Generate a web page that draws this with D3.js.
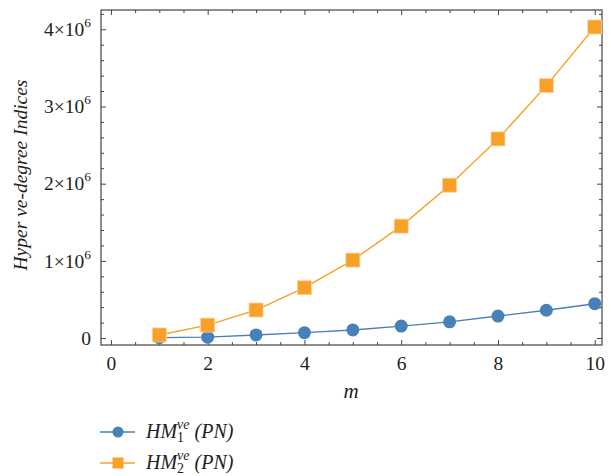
<!DOCTYPE html>
<html>
<head>
<meta charset="utf-8">
<script src="https://cdn.jsdelivr.net/npm/d3@7"></script>
<style>
  body { margin: 0; background: #fff; }
</style>
</head>
<body>
<svg width="611" height="476"></svg>
<script>
const mValues = [1, 2, 3, 4, 5, 6, 7, 8, 9, 10];
const hm1 = [0.005e6, 0.012e6, 0.04e6, 0.07e6, 0.105e6, 0.155e6, 0.21e6, 0.285e6, 0.36e6, 0.445e6];
const hm2 = [0.04e6, 0.168e6, 0.363e6, 0.652e6, 1.01e6, 1.45e6, 1.98e6, 2.58e6, 3.27e6, 4.03e6];
const xTicks = [0, 2, 4, 6, 8, 10];
const yTicks = [0, 1e6, 2e6, 3e6, 4e6];
const yTickLabels = ["0", "1×10|6", "2×10|6", "3×10|6", "4×10|6"];

const blue = "#4781b8";
const orange = "#f7a128";
const frameColor = "#444";
const serif = "Liberation Serif";

const svg = d3.select("svg").attr("font-family", serif);

const x = d3.scaleLinear().domain([-0.205, 10.15]).range([101, 602]);
const y = d3.scaleLinear().domain([-0.09e6, 4.25e6]).range([345, 10]);

const xMinor = d3.range(0, 10.01, 0.5).filter(v => v % 2 !== 0);
const yMinor = d3.range(0, 4.21e6, 0.2e6).filter(v => Math.round(v) % 1e6 !== 0);

function styleAxis(g) {
  g.attr("font-family", serif).attr("font-size", null);
  g.select(".domain").remove();
  g.selectAll(".tick line").attr("stroke", frameColor);
  g.selectAll(".tick text").attr("fill", "#222").attr("font-size", 19.5);
}

// bottom
svg.append("g").attr("transform", "translate(0,345)")
  .call(d3.axisBottom(x).tickValues(xTicks).tickSizeInner(-5).tickSizeOuter(0).tickPadding(11))
  .call(styleAxis);
svg.append("g").attr("transform", "translate(0,345)")
  .call(d3.axisBottom(x).tickValues(xMinor).tickSize(-3).tickFormat(""))
  .call(styleAxis);
// top
svg.append("g").attr("transform", "translate(0,10)")
  .call(d3.axisTop(x).tickValues(xTicks).tickSize(-5).tickFormat(""))
  .call(styleAxis);
svg.append("g").attr("transform", "translate(0,10)")
  .call(d3.axisTop(x).tickValues(xMinor).tickSize(-3).tickFormat(""))
  .call(styleAxis);
// left
svg.append("g").attr("transform", "translate(101,0)")
  .call(d3.axisLeft(y).tickValues(yTicks).tickSizeInner(-5).tickSizeOuter(0).tickPadding(10))
  .call(styleAxis)
  .call(g => g.selectAll(".tick text").each(function(d, i) {
    const parts = yTickLabels[i].split("|");
    const t = d3.select(this).text(parts[0]);
    if (parts[1]) t.append("tspan").attr("dy", -9).attr("font-size", 13.5).text(parts[1]);
  }));
svg.append("g").attr("transform", "translate(101,0)")
  .call(d3.axisLeft(y).tickValues(yMinor).tickSize(-3).tickFormat(""))
  .call(styleAxis);
// right
svg.append("g").attr("transform", "translate(602,0)")
  .call(d3.axisRight(y).tickValues(yTicks).tickSize(-5).tickFormat(""))
  .call(styleAxis);
svg.append("g").attr("transform", "translate(602,0)")
  .call(d3.axisRight(y).tickValues(yMinor).tickSize(-3).tickFormat(""))
  .call(styleAxis);

// frame
svg.append("rect")
  .attr("x", 101).attr("y", 10).attr("width", 501).attr("height", 335)
  .attr("fill", "none").attr("stroke", frameColor).attr("stroke-width", 1.2);

// axis titles
svg.append("text")
  .attr("x", 351).attr("y", 398)
  .attr("text-anchor", "middle").attr("font-style", "italic").attr("font-size", 21)
  .attr("fill", "#222").text("m");
svg.append("text")
  .attr("transform", "translate(27,175) rotate(-90)")
  .attr("text-anchor", "middle").attr("font-style", "italic").attr("font-size", 19.5)
  .attr("fill", "#222").text("Hyper ve-degree Indices");

const line = d3.line().x((d, i) => x(mValues[i])).y(d => y(d));

svg.append("path").datum(hm2).attr("d", line)
  .attr("fill", "none").attr("stroke", orange).attr("stroke-width", 1.4);
svg.append("path").datum(hm1).attr("d", line)
  .attr("fill", "none").attr("stroke", blue).attr("stroke-width", 1.4);

svg.append("g").selectAll("circle").data(hm1).join("circle")
  .attr("cx", (d, i) => x(mValues[i])).attr("cy", d => y(d)).attr("r", 6.5)
  .attr("fill", blue);
svg.append("g").selectAll("rect").data(hm2).join("rect")
  .attr("x", (d, i) => x(mValues[i]) - 7).attr("y", d => y(d) - 7)
  .attr("width", 14).attr("height", 14)
  .attr("fill", orange).attr("stroke", "#fbd39a").attr("stroke-width", 0.8);

// legend
const legend = [
  { sub: "1", color: blue, shape: "circle" },
  { sub: "2", color: orange, shape: "square" }
];
const lg = svg.append("g").selectAll("g").data(legend).join("g")
  .attr("transform", (d, i) => `translate(100,${432 + i * 31})`);
lg.append("line").attr("x1", 0).attr("x2", 35)
  .attr("stroke", d => d.color).attr("stroke-width", 1.4);
lg.filter(d => d.shape === "circle").append("circle")
  .attr("cx", 18).attr("r", 5.5).attr("fill", d => d.color);
lg.filter(d => d.shape === "square").append("rect")
  .attr("x", 12.5).attr("y", -5.5).attr("width", 11).attr("height", 11).attr("fill", d => d.color);
const lt = lg.append("text").attr("x", 46).attr("y", 6)
  .attr("font-style", "italic").attr("font-size", 20).attr("fill", "#222");
lt.append("tspan").text("HM");
lt.append("tspan").attr("font-size", 14).attr("font-style", "normal").attr("dy", 4).text(d => d.sub);
lt.append("tspan").attr("font-size", 14).attr("dx", -7).attr("dy", -13).text("ve");
lt.append("tspan").attr("dy", 9).text(" (PN)");
</script>
</body>
</html>
